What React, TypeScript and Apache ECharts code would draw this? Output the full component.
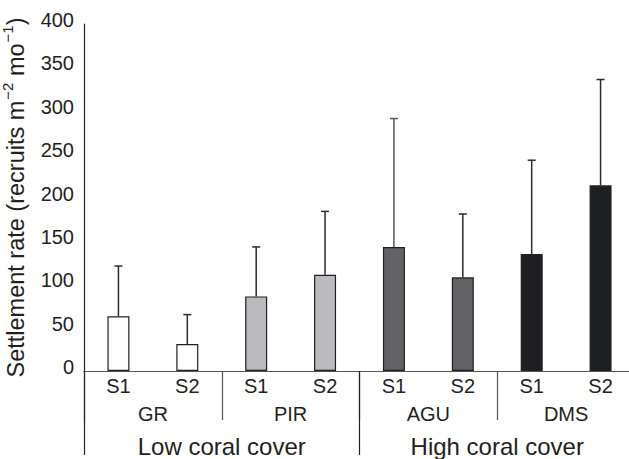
import React, { useEffect, useRef } from "react";
import * as echarts from "echarts";

const categories = ["S1", "S2", "S1", "S2", "S1", "S2", "S1", "S2"];
const means = [63, 31, 86, 111, 143, 108, 135, 214];
const upper = [121, 65, 143, 184, 291, 181, 243, 336];
const barColors = ["#ffffff", "#ffffff", "#b9babe", "#b9babe", "#626166", "#626166", "#1e1f22", "#1e1f22"];
const errColors = ["#2a2a2a", "#2a2a2a", "#2a2a2a", "#2a2a2a", "#58585c", "#2a2a2a", "#2a2a2a", "#2a2a2a"];
const sites = ["GR", "PIR", "AGU", "DMS"];
const covers = ["Low coral cover", "High coral cover"];
const yTicks = { min: 0, max: 400, interval: 50 };

const FONT = "'Liberation Sans', Arial, Helvetica, sans-serif";
const TXT = "#231f20";

export default function App() {
  const ref = useRef<HTMLDivElement>(null);
  useEffect(() => {
    if (!ref.current) return;
    const chart = echarts.init(ref.current, null, { renderer: "svg" });
    const gridRect = { left: 84, right: -6, top: 24, bottom: 88, containLabel: false, outerBoundsMode: "none" };
    const hiddenY = (gi: number) => ({
      type: "value",
      gridIndex: gi,
      show: false,
      min: 0,
      max: 400,
    });
    chart.setOption({
      animation: false,
      backgroundColor: "#ffffff",
      textStyle: { fontFamily: FONT },
      grid: [gridRect, gridRect, gridRect],
      xAxis: [
        {
          type: "category",
          gridIndex: 0,
          data: categories,
          position: "bottom",
          axisLine: { show: true, lineStyle: { color: "#555558", width: 1.2 } },
          axisTick: { show: false },
          axisLabel: { color: TXT, fontSize: 20, margin: 5, fontFamily: FONT },
        },
        {
          type: "category",
          gridIndex: 1,
          data: sites,
          position: "bottom",
          axisLine: { show: false },
          axisTick: { show: true, length: 49, lineStyle: { color: "#555558", width: 1.2 } },
          axisLabel: { color: TXT, fontSize: 20, margin: 33, fontFamily: FONT },
        },
        {
          type: "category",
          gridIndex: 2,
          data: covers,
          position: "bottom",
          axisLine: { show: false },
          axisTick: { show: true, length: 84, lineStyle: { color: "#231f20", width: 1.2 } },
          axisLabel: { color: TXT, fontSize: 24, margin: 63, fontFamily: FONT },
        },
      ],
      yAxis: [
        {
          type: "value",
          gridIndex: 0,
          min: yTicks.min,
          max: yTicks.max,
          interval: yTicks.interval,
          axisLine: { show: true, lineStyle: { color: "#231f20", width: 1.2 } },
          axisTick: { show: false },
          splitLine: { show: false },
          axisLabel: {
            color: TXT,
            fontSize: 20,
            margin: 10,
            fontFamily: FONT,
            verticalAlign: "bottom",
            lineHeight: 8,
          },
          name: "{a|Settlement rate (recruits m}{s|\u22122}{a| mo}{s|\u22121}{a|)}",
          nameLocation: "middle",
          nameRotate: 90,
          nameGap: 56,
          nameTextStyle: {
            color: TXT,
            fontSize: 24,
            fontFamily: FONT,
            rich: {
              a: { fontSize: 23.5, color: TXT, fontFamily: FONT, lineHeight: 28, verticalAlign: "bottom" },
              s: { fontSize: 15, color: TXT, fontFamily: FONT, lineHeight: 28, verticalAlign: "top", padding: [0, 0, 0, 1] },
            },
          },
        },
        hiddenY(1),
        hiddenY(2),
      ],
      series: [
        {
          type: "bar",
          xAxisIndex: 0,
          yAxisIndex: 0,
          barWidth: 22,
          data: means.map((v, i) => ({
            value: v,
            itemStyle: { color: barColors[i], borderColor: "#231f20", borderWidth: 1.2 },
          })),
          z: 2,
        },
        {
          type: "custom",
          xAxisIndex: 0,
          yAxisIndex: 0,
          clip: false,
          z: 3,
          data: means.map((v, i) => [i, v, upper[i]]),
          encode: { x: 0, y: [1, 2] },
          renderItem: (params: any, api: any) => {
            const i = api.value(0);
            const base = api.coord([i, api.value(1)]);
            const top = api.coord([i, api.value(2)]);
            const stroke = errColors[params.dataIndex];
            const style = { stroke, lineWidth: 1.5 };
            return {
              type: "group",
              children: [
                { type: "line", shape: { x1: base[0], y1: base[1], x2: top[0], y2: top[1] }, style },
                { type: "line", shape: { x1: top[0] - 4, y1: top[1], x2: top[0] + 4, y2: top[1] }, style },
              ],
            };
          },
        },
      ],
    });
    return () => chart.dispose();
  }, []);
  return (
    <div
      ref={ref}
      style={{ position: "absolute", left: 0, top: 0, width: 629, height: 459, background: "#fff" }}
    />
  );
}
